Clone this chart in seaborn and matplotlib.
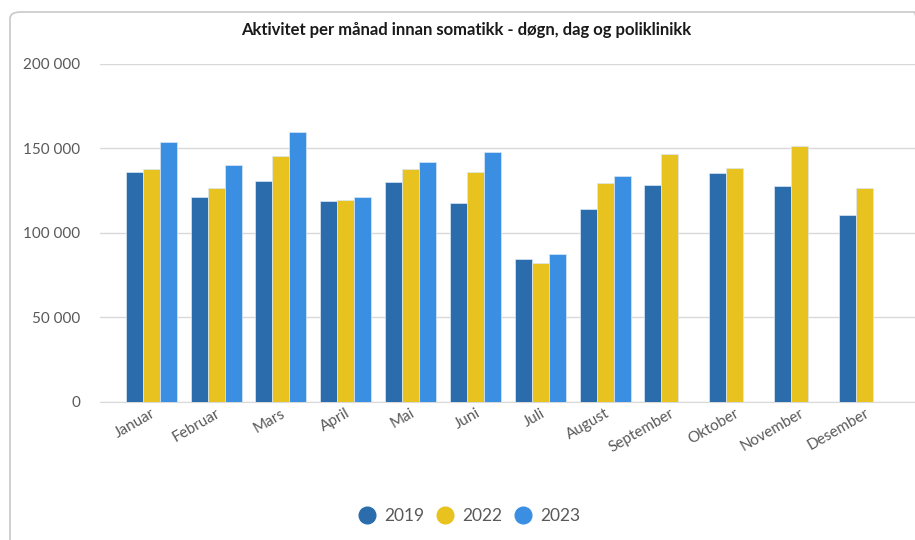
import pandas as pd
import seaborn as sns
import matplotlib.pyplot as plt
from matplotlib.patches import FancyBboxPatch
from matplotlib.lines import Line2D
from matplotlib.ticker import FuncFormatter

# data
months = ['Januar', 'Februar', 'Mars', 'April', 'Mai', 'Juni', 'Juli',
          'August', 'September', 'Oktober', 'November', 'Desember']
v2019 = [136000, 121000, 130500, 118700, 130000, 118000, 84600,
         114000, 128200, 135300, 128000, 110500]
v2022 = [137700, 126800, 145700, 119700, 138000, 135900, 82200,
         129400, 146700, 138500, 151500, 126400]
v2023 = [153600, 140400, 159600, 121500, 141800, 148100, 87400,
         133500, None, None, None, None]
years = ['2019', '2022', '2023']
colors = ['#2B6CAD', '#E8C21F', '#3A8FE3']

df = pd.DataFrame({'Månad': months, '2019': v2019, '2022': v2022, '2023': v2023})
long = df.melt(id_vars='Månad', var_name='År', value_name='Aktivitet')

sns.set_style('white')
plt.rcParams['font.family'] = ['Lato', 'DejaVu Sans']

fig = plt.figure(figsize=(9.15, 5.4), dpi=100)
ax = fig.add_axes([0.1093, 0.2556, 0.8907, 0.626])

# rounded frame around the chart (right and bottom run off the picture)
frame = FancyBboxPatch((10 / 915, -0.05), 1.0, 1 - 12 / 540 + 0.05,
                       boxstyle='round,pad=0,rounding_size=0.012',
                       transform=fig.transFigure, facecolor='none',
                       edgecolor='#c8c8c8', linewidth=1.2, zorder=0)
fig.patches.append(frame)

sns.barplot(data=long, x='Månad', y='Aktivitet', hue='År', order=months,
            hue_order=years, palette=colors, saturation=1, width=0.785, ax=ax,
            edgecolor='#dce8f5', linewidth=0.5, legend=False, zorder=3)

ax.set_xlim(-0.79, 11.78)
ax.set_ylim(0, 200000)
ax.set_yticks(range(0, 200001, 50000))
ax.yaxis.set_major_formatter(FuncFormatter(lambda v, p: f'{int(v):,}'.replace(',', ' ')))
ax.grid(axis='y', color='#d9d9d9', linewidth=1, zorder=0)
ax.set_axisbelow(True)
for s in ['top', 'right', 'left']:
    ax.spines[s].set_visible(False)
ax.spines['bottom'].set_color('#d9d9d9')
ax.set_xlabel('')
ax.set_ylabel('')
ax.tick_params(axis='both', length=0, colors='#595959', labelsize=11)
ax.tick_params(axis='y', pad=14)
ax.tick_params(axis='x', pad=3)
plt.setp(ax.get_xticklabels(), rotation=30, ha='right', rotation_mode='anchor')
for lbl in ax.get_xticklabels():
    lbl.set_x(lbl.get_position()[0] - 0.07)

fig.text(0.51, 1 - 30 / 540, 'Aktivitet per månad innan somatikk - døgn, dag og poliklinikk',
         ha='center', va='center', fontsize=12, fontweight='bold', color='#1a1a1a')

handles = [Line2D([], [], marker='o', linestyle='', markersize=12,
                  markerfacecolor=c, markeredgecolor=c) for c in colors]
fig.legend(handles, years, loc='center', bbox_to_anchor=(0.508, 1 - 516 / 540),
           ncol=3, frameon=False, fontsize=12.5, handletextpad=0.0,
           columnspacing=0.2, labelcolor='#595959')

fig.savefig('out.png', dpi=100)
